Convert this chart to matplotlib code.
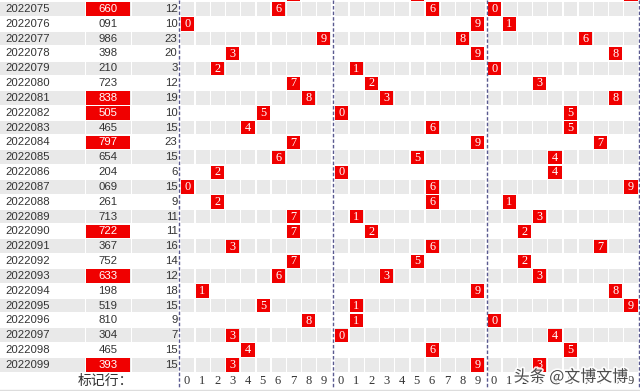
import matplotlib.pyplot as plt
from matplotlib.patches import Rectangle
import matplotlib.patheffects as pe

plt.rcParams['font.family'] = ['Noto Sans CJK SC', 'DejaVu Sans']

# 期号 / 开奖号 / 和值 (第一行为上一期，只露出一点)
issues = ['2022074', '2022075', '2022076', '2022077', '2022078', '2022079', '2022080',
          '2022081', '2022082', '2022083', '2022084', '2022085', '2022086', '2022087',
          '2022088', '2022089', '2022090', '2022091', '2022092', '2022093', '2022094',
          '2022095', '2022096', '2022097', '2022098', '2022099']
numbers = ['759', '660', '091', '986', '398', '210', '723', '838', '505', '465', '797',
           '654', '204', '069', '261', '713', '722', '367', '752', '633', '198', '519',
           '810', '304', '465', '393']
sums = [21, 12, 10, 23, 20, 3, 12, 19, 10, 15, 23, 15, 6, 15, 9, 11, 11, 16, 14, 12,
        18, 15, 9, 7, 15, 15]
footer_label = '标记行：'
digit_labels = [str(d) for d in range(10)]

RED = '#f00000'
GREY = '#e9e9e9'
TXT = '#333333'
row_h = 14.83
y0 = 9 - row_h
cell_w = 15.2
group_left = [180.5, 334.5, 487.5]
sep_x = [179, 333, 486.5, 639]

fig = plt.figure(figsize=(6.4, 3.91), dpi=100)
ax = fig.add_axes([0, 0, 1, 1])
ax.set_xlim(0, 640)
ax.set_ylim(391, 0)
ax.axis('off')

for i, (iss, num, s) in enumerate(zip(issues, numbers, sums)):
    yc = y0 + i * row_h
    top = yc - row_h / 2 + 0.6
    h = row_h - 1.2
    if i % 2 == 1:
        ax.add_patch(Rectangle((0, top), 85, h, color=GREY, lw=0))
        ax.add_patch(Rectangle((86, top), 45, h, color=GREY, lw=0))
        ax.add_patch(Rectangle((132, top), 46, h, color=GREY, lw=0))
        for gl in group_left:
            for k in range(10):
                ax.add_patch(Rectangle((gl + k * cell_w, top), cell_w - 1.4, h,
                                       color=GREY, lw=0))
    is_pair = len(set(num)) < 3
    for g, ch in enumerate(num):
        x = group_left[g] + int(ch) * cell_w
        ax.add_patch(Rectangle((x, yc - 6.6), 13.2, 13.4, color=RED, lw=0))
        if yc > 0:
            ax.text(x + 6.6, yc + 0.3, ch, ha='center', va='center', fontsize=8.8,
                    color='white', family=['Liberation Serif'])
    if yc < 0:
        continue
    if is_pair:
        ax.add_patch(Rectangle((86, top), 44, h, color=RED, lw=0))
    ax.text(5, yc, iss, ha='left', va='center', fontsize=8.2, color=TXT,
            family=['Liberation Sans'])
    ax.text(108, yc, num, ha='center', va='center', fontsize=8.2,
            color='white' if is_pair else TXT, family=['Liberation Sans'])
    ax.text(177.5, yc, str(s), ha='right', va='center', fontsize=8.2, color=TXT,
            family=['Liberation Sans'])

# 分隔虚线
for x in sep_x:
    ax.plot([x, x], [0, 388], color='#5a5a90', lw=1, ls=(0, (2.5, 1.5)))

# 标记行
yf = y0 + len(issues) * row_h + 1
ax.text(105, yf, footer_label, ha='center', va='center', fontsize=10, color=TXT)
for gl in group_left:
    for k, lab in enumerate(digit_labels):
        ax.text(gl + k * cell_w + 6.3, yf, lab, ha='center', va='center', fontsize=9,
                color=TXT, family=['Liberation Serif'])
ax.plot([0, 640], [389.5, 389.5], color='#dddddd', lw=1)

# 水印
ax.text(571, 377, '头条 @文博文博', ha='center', va='center', fontsize=11.5,
        color='#3a3a3a', alpha=0.9,
        path_effects=[pe.withStroke(linewidth=2.5, foreground='white')])

fig.savefig('out.png', dpi=100)
